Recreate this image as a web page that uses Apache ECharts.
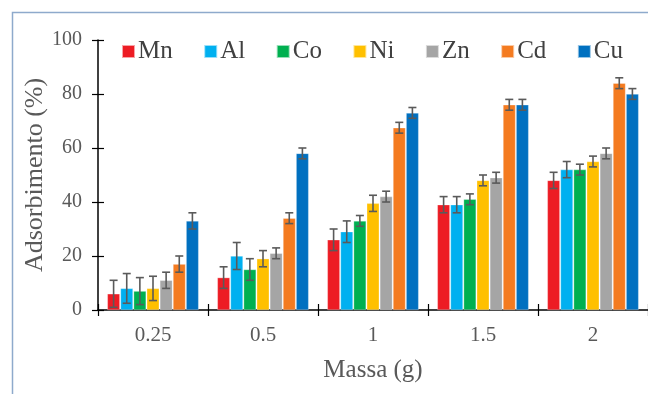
<!DOCTYPE html>
<html>
<head>
<meta charset="utf-8">
<script src="https://cdn.jsdelivr.net/npm/echarts@6/dist/echarts.min.js"></script>
<style>html,body{margin:0;padding:0;background:#fff}#c{width:648px;height:394px}</style>
</head>
<body>
<div id="c"></div>
<script>
var categories = ['0.25', '0.5', '1', '1.5', '2'];
var metals = ['Mn', 'Al', 'Co', 'Ni', 'Zn', 'Cd', 'Cu'];
var colors = ['#ed1c24', '#00b0f0', '#00b050', '#ffc000', '#a5a5a5', '#f47b20', '#0070c0'];
var Mn = [6, 12, 26, 39, 48];
var Al = [8, 20, 29, 39, 52];
var Co = [7, 15, 33, 41, 52];
var Ni = [8, 19, 39.5, 48, 55];
var Zn = [11, 21, 42, 49, 58];
var Cd = [17, 34, 67.5, 76, 84];
var Cu = [33, 58, 73, 76, 80];
var MnErr = [5, 4, 4, 3, 3];
var AlErr = [5.5, 5, 4, 3, 3];
var CoErr = [5, 4, 2, 2, 2];
var NiErr = [4.5, 3, 3, 2, 2];
var ZnErr = [3, 2, 2, 2, 2];
var CdErr = [3, 2, 2, 2, 2];
var CuErr = [3, 2, 2, 2, 2];
var yTicks = [0, 20, 40, 60, 80, 100];

var values = [Mn, Al, Co, Ni, Zn, Cd, Cu];
var errors = [MnErr, AlErr, CoErr, NiErr, ZnErr, CdErr, CuErr];
var catGap = 0.17, barGap = 0.05;
var font = 'Liberation Serif';

var series = [];
metals.forEach(function (m, i) {
  series.push({
    name: m, type: 'bar', data: values[i],
    barCategoryGap: (catGap * 100) + '%', barGap: (barGap * 100) + '%',
    itemStyle: { color: colors[i], borderColor: 'rgba(255,255,255,0.6)', borderWidth: 0.5 },
    z: 2
  });
});
metals.forEach(function (m, i) {
  var d = values[i].map(function (v, k) { return [k, v, errors[i][k]]; });
  series.push({
    type: 'custom', name: m + ' err', data: d, z: 5, silent: true,
    renderItem: function (params, api) {
      var k = api.value(0), v = api.value(1), e = api.value(2);
      var band = api.size([1, 0])[0];
      var w = band * (1 - catGap) / (7 + 6 * barGap);
      var c = api.coord([k, v]);
      var x = c[0] - band * (1 - catGap) / 2 + w * (i * (1 + barGap) + 0.5);
      var yt = api.coord([k, v + e])[1];
      var yb = api.coord([k, Math.max(v - e, 0)])[1];
      var cap = 4;
      var st = { stroke: '#5a5a5a', lineWidth: 1.6 };
      return { type: 'group', children: [
        { type: 'line', shape: { x1: x, y1: yt, x2: x, y2: yb }, style: st },
        { type: 'line', shape: { x1: x - cap, y1: yt, x2: x + cap, y2: yt }, style: st },
        { type: 'line', shape: { x1: x - cap, y1: yb, x2: x + cap, y2: yb }, style: st }
      ]};
    }
  });
});

var chart = echarts.init(document.getElementById('c'), null, { renderer: 'canvas' });
chart.setOption({
  animation: false,
  backgroundColor: '#fff',
  graphic: [{
    type: 'rect', shape: { x: 12.5, y: 12.5, width: 800, height: 600 },
    style: { fill: 'none', stroke: '#8eaacc', lineWidth: 1.5 }, silent: true, z: 0
  }],
  legend: {
    data: metals, left: 116, top: 34, itemWidth: 13, itemHeight: 13, itemGap: 30.5,
    icon: 'rect',
    textStyle: { fontFamily: font, fontSize: 25, color: '#404040', padding: [0, 0, 0, -2] }
  },
  grid: { left: 98, right: 0, top: 40, bottom: 84, containLabel: false },
  xAxis: [{
    type: 'category', data: categories,
    name: 'Massa (g)', nameLocation: 'middle', nameGap: 48,
    nameTextStyle: { fontFamily: font, fontSize: 25, color: '#595959' },
    axisLine: { lineStyle: { color: '#000', width: 1.5 } },
    axisTick: { show: true, length: 6, lineStyle: { color: '#000', width: 1.2 } },
    axisLabel: { fontFamily: font, fontSize: 21, color: '#595959', margin: 15 }
  }, {
    type: 'category', data: categories, position: 'bottom',
    axisLine: { show: false }, axisLabel: { show: false },
    axisTick: { show: true, inside: true, length: 6, lineStyle: { color: '#000', width: 1.2 } }
  }],
  yAxis: [{
    type: 'value', min: 0, max: 100, interval: 20,
    name: 'Adsorbimento (%)', nameLocation: 'middle', nameGap: 50, nameMoveOverlap: false,
    nameTextStyle: { fontFamily: font, fontSize: 26, color: '#595959' },
    axisLine: { show: true, lineStyle: { color: '#000', width: 1.5 } },
    axisTick: { show: true, length: 6, lineStyle: { color: '#000', width: 1.2 } },
    axisLabel: { fontFamily: font, fontSize: 20, color: '#595959', margin: 16,
      formatter: function (v) { return yTicks.indexOf(v) >= 0 ? String(v) : ''; } },
    splitLine: { show: false }
  }, {
    type: 'value', min: 0, max: 100, interval: 20, position: 'left',
    axisLine: { show: false }, axisLabel: { show: false }, splitLine: { show: false },
    axisTick: { show: true, inside: true, length: 6, lineStyle: { color: '#000', width: 1.2 } }
  }],
  series: series
});
</script>
</body>
</html>
